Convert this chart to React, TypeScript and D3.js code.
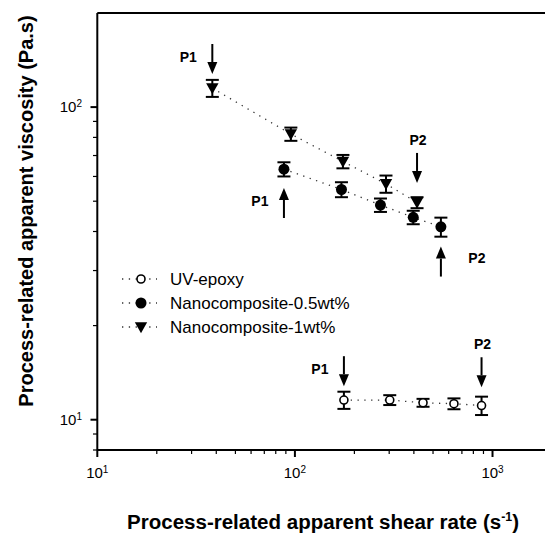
import React from "react";
import * as d3 from "d3";

// ---- data ----
const seriesNames = ["UV-epoxy", "Nanocomposite-0.5wt%", "Nanocomposite-1wt%"];

const uvShear = [177, 302, 445, 638, 880];
const uvVisc = [11.56, 11.56, 11.33, 11.25, 11.1];
const uvErr = [0.73, 0.42, 0.33, 0.45, 0.75];

const nc05Shear = [88, 172, 271, 397, 548];
const nc05Visc = [63.3, 54.5, 48.6, 44.4, 41.4];
const nc05Err = [3.3, 3.0, 2.4, 2.2, 2.9];

const nc1Shear = [38.2, 95.4, 175, 289, 415];
const nc1Visc = [115, 82, 67, 56.8, 49.5];
const nc1Err = [7.2, 4.0, 3.3, 3.6, 2.0];

const xMajorTicks = [10, 100, 1000];
const xMinorTicks = [20, 30, 40, 50, 60, 70, 80, 90, 200, 300, 400, 500, 600, 700, 800, 900];
const yMajorTicks = [10, 100];
const yMinorTicks = [8, 9, 20, 30, 40, 50, 60, 70, 80, 90];
const tickExponents = ["1", "2", "3"];

// annotations: arrow tip at (x, tipY) in data units
const annX = [38.2, 88, 415, 548, 177, 880];
const annTipY = [127.6, 55.1, 57.2, 35.8, 12.8, 12.7];
const annLabel = ["P1", "P1", "P2", "P2", "P1", "P2"];
const annDir = ["down", "up", "down", "up", "down", "down"];
const annPos = ["left", "left", "above", "right", "left", "above"];

const W = 545;
const H = 535;

export default function App() {
  const x = d3.scaleLog().domain([10, 2000]).range([97.3, 552]);
  const y = d3.scaleLog().domain([8, 200]).range([450, 13]);
  const font = "'Liberation Sans', Arial, Helvetica, sans-serif";

  const series = [
    { name: seriesNames[0], xs: uvShear, ys: uvVisc, es: uvErr, marker: "open" },
    { name: seriesNames[1], xs: nc05Shear, ys: nc05Visc, es: nc05Err, marker: "circle" },
    { name: seriesNames[2], xs: nc1Shear, ys: nc1Visc, es: nc1Err, marker: "tri" },
  ];

  const line = d3
    .line<[number, number]>()
    .x((d) => x(d[0]))
    .y((d) => y(d[1]));

  const marker = (type: string, cx: number, cy: number, key: string) => {
    if (type === "open")
      return <circle key={key} cx={cx} cy={cy} r={4} fill="#fff" stroke="#000" strokeWidth={1.6} />;
    if (type === "circle") return <circle key={key} cx={cx} cy={cy} r={5.5} fill="#000" />;
    const s = 6.2;
    return (
      <path
        key={key}
        d={`M${cx - s},${cy - 4.8}L${cx + s},${cy - 4.8}L${cx},${cy + 6.2}Z`}
        fill="#000"
      />
    );
  };

  const legendY = [279, 303, 327];

  const arrowLen = 30;

  return (
    <svg
      width={W}
      height={H}
      style={{ position: "absolute", left: 0, top: 0, background: "#fff" }}
      fontFamily={font}
    >
      <rect x={0} y={0} width={W} height={H} fill="#fff" />
      {/* connecting dotted lines */}
      {series.map((s, i) => (
        <path
          key={"l" + i}
          d={line(s.xs.map((v, j) => [v, s.ys[j]] as [number, number])) || ""}
          fill="none"
          stroke="#333"
          strokeWidth={1.3}
          strokeDasharray="1.3,5.5"
        />
      ))}
      {/* error bars */}
      {series.map((s, i) =>
        s.xs.map((v, j) => {
          const cx = x(v);
          const yt = y(s.ys[j] + s.es[j]);
          const yb = y(s.ys[j] - s.es[j]);
          return (
            <g key={`e${i}-${j}`} stroke="#000" strokeWidth={2}>
              <line x1={cx} x2={cx} y1={yt} y2={yb} />
              <line x1={cx - 6.5} x2={cx + 6.5} y1={yt} y2={yt} />
              <line x1={cx - 6.5} x2={cx + 6.5} y1={yb} y2={yb} />
            </g>
          );
        })
      )}
      {/* markers */}
      {series.map((s, i) => s.xs.map((v, j) => marker(s.marker, x(v), y(s.ys[j]), `m${i}-${j}`)))}

      {/* annotations */}
      {annX.map((v, i) => {
        const ax = x(v);
        const tip = y(annTipY[i]);
        const tail = annDir[i] === "down" ? tip - arrowLen : tip + arrowLen;
        const head = annDir[i] === "down" ? -12 : 12;
        const mid = (tip + tail) / 2;
        let lx = ax;
        let ly = 0;
        if (annPos[i] === "left") {
          lx = ax - 24;
          ly = mid + 3;
        } else if (annPos[i] === "right") {
          lx = ax + 36;
          ly = mid + 1;
        } else {
          lx = ax + 1;
          ly = tail - 8;
        }
        return (
          <g key={"a" + i}>
            <line x1={ax} x2={ax} y1={tail} y2={tip + head} stroke="#000" strokeWidth={2} />
            <path
              d={`M${ax - 5},${tip + head}L${ax + 5},${tip + head}L${ax},${tip}Z`}
              fill="#000"
            />
            <text x={lx} y={ly} fontSize={14} fontWeight="bold" textAnchor="middle">
              {annLabel[i]}
            </text>
          </g>
        );
      })}

      {/* axes */}
      <line x1={97.3} x2={97.3} y1={y(200)} y2={450} stroke="#000" strokeWidth={2} />
      <line x1={97.3} x2={W} y1={450} y2={450} stroke="#000" strokeWidth={2} />
      <line x1={97.3} x2={W} y1={y(200)} y2={y(200)} stroke="#000" strokeWidth={2} />

      {xMajorTicks.map((t, i) => (
        <g key={"xt" + t}>
          <line x1={x(t)} x2={x(t)} y1={450} y2={457} stroke="#000" strokeWidth={2} />
          <text x={x(t)} y={478} fontSize={15} textAnchor="middle">
            10
            <tspan dy={-5} fontSize={10}>
              {tickExponents[i]}
            </tspan>
          </text>
        </g>
      ))}
      {xMinorTicks.map((t) => (
        <line key={"xm" + t} x1={x(t)} x2={x(t)} y1={450} y2={454} stroke="#000" strokeWidth={1.2} />
      ))}
      {yMajorTicks.map((t, i) => (
        <g key={"yt" + t}>
          <line x1={90.5} x2={97.3} y1={y(t)} y2={y(t)} stroke="#000" strokeWidth={2} />
          <text x={82} y={y(t) + 5} fontSize={15} textAnchor="end">
            10
            <tspan dy={-5} fontSize={10}>
              {tickExponents[i]}
            </tspan>
          </text>
        </g>
      ))}
      {yMinorTicks.map((t) => (
        <line key={"ym" + t} x1={93} x2={97.3} y1={y(t)} y2={y(t)} stroke="#000" strokeWidth={1.2} />
      ))}

      {/* axis titles */}
      <text
        x={127}
        y={529}
        fontSize={20}
        fontWeight="bold"
        textLength={392}
        lengthAdjust="spacingAndGlyphs"
      >
        Process-related apparent shear rate (s
        <tspan dy={-8} fontSize={12}>
          -1
        </tspan>
        <tspan dy={8}>)</tspan>
      </text>
      <text
        transform={`translate(33,211) rotate(-90)`}
        fontSize={20}
        fontWeight="bold"
        textAnchor="middle"
      >
        Process-related apparent viscosity (Pa.s)
      </text>

      {/* legend */}
      {series.map((s, i) => (
        <g key={"lg" + i}>
          <line
            x1={122}
            x2={157}
            y1={legendY[i]}
            y2={legendY[i]}
            stroke="#333"
            strokeWidth={1.3}
            strokeDasharray="1.3,5.5"
          />
          {marker(s.marker, 141, legendY[i], "lm" + i)}
          <text x={170} y={legendY[i] + 6} fontSize={17}>
            {s.name}
          </text>
        </g>
      ))}
    </svg>
  );
}
